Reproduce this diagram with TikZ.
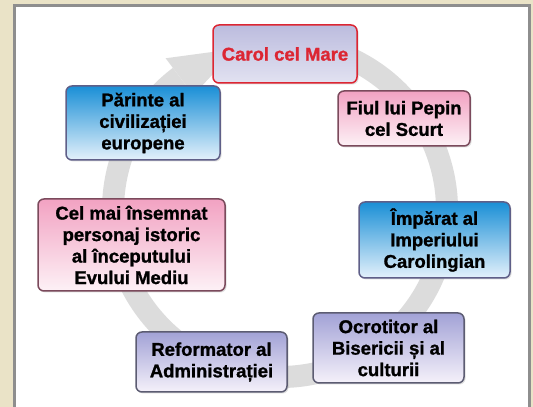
\documentclass[tikz,border=0pt]{standalone}
\usepackage{fontspec}
\setmainfont{Liberation Sans}
\newfontfamily\boxfont{Liberation Sans Bold}[FakeBold=1.2]
\usetikzlibrary{shadows}
\definecolor{beige}{HTML}{EAE3C7}
\definecolor{framegray}{HTML}{8E8E8E}
\definecolor{ringgray}{HTML}{DCDCDC}
\definecolor{bluetop}{HTML}{1A8FD6}
\definecolor{bluebot}{HTML}{E4F1FB}
\definecolor{blueedge}{HTML}{5F5F88}
\definecolor{pinktop}{HTML}{F2A2C2}
\definecolor{pinkbot}{HTML}{FDF1F6}
\definecolor{pinkedge}{HTML}{7B4A5C}
\definecolor{lavtop}{HTML}{A2A2D6}
\definecolor{lavbot}{HTML}{F5F1FA}
\definecolor{lavedge}{HTML}{5C5C72}
\definecolor{caroltop}{HTML}{BCBCDE}
\definecolor{carolbot}{HTML}{E2E2F1}
\definecolor{carolred}{HTML}{DC2633}
\tikzset{
  box/.style={rounded corners=6pt, line width=1.5pt, align=center, inner sep=0pt,
    font=\boxfont\fontsize{18.5}{21.5}\selectfont,
    drop shadow={shadow xshift=1.5pt, shadow yshift=-1.5pt, opacity=0.25}},
  bluebox/.style={box, draw=blueedge, top color=bluetop, bottom color=bluebot},
  pinkbox/.style={box, draw=pinkedge, top color=pinktop, bottom color=pinkbot},
  lavbox/.style={box, draw=lavedge, top color=lavtop, bottom color=lavbot},
  carolbox/.style={box, draw=carolred, top color=caroltop, bottom color=carolbot, text=carolred},
}
\begin{document}
\begin{tikzpicture}[x=1pt,y=1pt]
\useasboundingbox (0,0) rectangle (533,407);
% background and frame
\fill[beige] (0,0) rectangle (533,407);
\fill[framegray] (13,-5) rectangle (531,403);
\fill[white] (16,-5) rectangle (528,400);
% circular arrow
\begin{scope}[shift={(280,197)}]
  \fill[ringgray] (75:178) arc[start angle=75, end angle=-233, radius=178]
     -- (-233:156) arc[start angle=-233, end angle=75, radius=156] -- cycle;
  \fill[ringgray] (127:190) -- (105:167) -- (127:144) -- cycle;
\end{scope}
% boxes
\node[carolbox, minimum width=144pt, minimum height=58pt] (carol) at (285,353) {Carol cel Mare};
\node[bluebox, minimum width=154pt, minimum height=74pt] (parinte) at (143,284) {Părinte al\\civilizației\\europene};
\node[pinkbox, minimum width=132pt, minimum height=55pt] (fiul) at (404,288.5) {Fiul lui Pepin\\cel Scurt};
\node[pinkbox, minimum width=187pt, minimum height=92pt] (celmai) at (131.5,162) {Cel mai însemnat\\personaj istoric\\al începutului\\Evului Mediu};
\node[bluebox, minimum width=151pt, minimum height=76pt] (imparat) at (434.5,167) {Împărat al\\Imperiului\\Carolingian};
\node[lavbox, minimum width=151pt, minimum height=70pt] (ocrotitor) at (388.5,59) {Ocrotitor al\\Bisericii și al\\culturii};
\node[lavbox, minimum width=151pt, minimum height=60pt] (reformator) at (211.5,45) {Reformator al\\Administrației};
\end{tikzpicture}
\end{document}
